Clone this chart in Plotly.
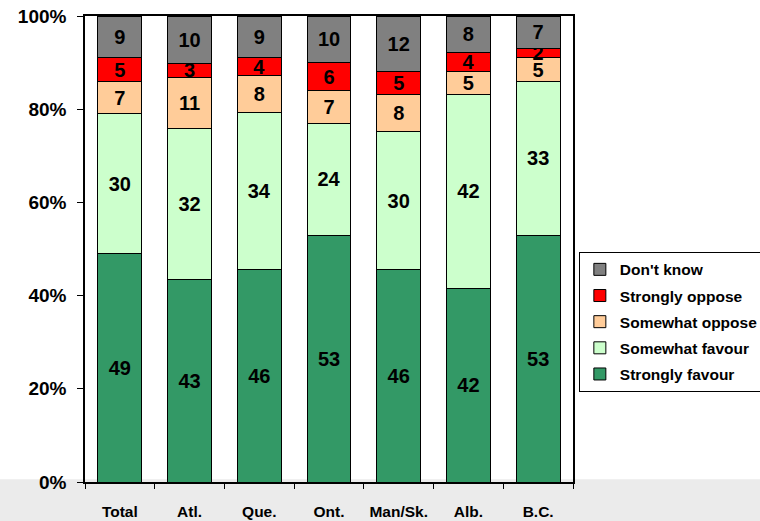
import plotly.graph_objects as go

regions = ["Total", "Atl.", "Que.", "Ont.", "Man/Sk.", "Alb.", "B.C."]
strongly_favour = [49, 43, 46, 53, 46, 42, 53]
somewhat_favour = [30, 32, 34, 24, 30, 42, 33]
somewhat_oppose = [7, 11, 8, 7, 8, 5, 5]
strongly_oppose = [5, 3, 4, 6, 5, 4, 2]
dont_know = [9, 10, 9, 10, 12, 8, 7]

series = [
    ("Strongly favour", strongly_favour, "#339966"),
    ("Somewhat favour", somewhat_favour, "#CCFFCC"),
    ("Somewhat oppose", somewhat_oppose, "#FFCC99"),
    ("Strongly oppose", strongly_oppose, "#FF0000"),
    ("Don't know", dont_know, "#808080"),
]

FONT = "Liberation Sans, Arial, sans-serif"

fig = go.Figure()
for i, (name, vals, color) in enumerate(series):
    fig.add_trace(go.Bar(
        x=regions, y=vals, name=name,
        marker=dict(color=color, line=dict(color="black", width=1)),
        text=[str(v) for v in vals],
        textposition="inside", insidetextanchor="middle",
        textangle=0, constraintext="none",
        textfont=dict(family=FONT, size=20, color="black", weight="bold"),
        legendgroup=name, legendrank=1000 - i,
        hoverinfo="x+y+name",
    ))

fig.update_layout(
    width=760, height=521,
    barmode="stack", barnorm="percent", bargap=0.37,
    paper_bgcolor="white", plot_bgcolor="white",
    margin=dict(l=85, r=187, t=16, b=39, autoexpand=False),
    font=dict(family=FONT, color="black"),
    showlegend=True,
    legend=dict(
        x=1.012, y=0.494, xanchor="left", yanchor="top",
        traceorder="grouped", tracegroupgap=3,
        bordercolor="black", borderwidth=1, bgcolor="white",
        font=dict(family=FONT, size=15.5, color="black", weight="bold"),
        itemwidth=30,
    ),
    shapes=[dict(
        type="rect", xref="paper", yref="paper",
        x0=-0.2, x1=1.5, y0=-0.2, y1=0.006,
        fillcolor="#ebebeb", line=dict(width=0), layer="below",
    )],
)

fig.update_xaxes(
    type="category", showline=True, linecolor="black", linewidth=1.5, mirror=True,
    ticks="outside", ticklen=5, tickcolor="black", tickson="boundaries",
    tickfont=dict(family=FONT, size=15.5, color="black", weight="bold"),
    tickangle=0, ticklabelstandoff=15, showgrid=False, automargin=False,
)
fig.update_yaxes(
    range=[0, 100], dtick=20, ticksuffix="%",
    showline=True, linecolor="black", linewidth=1.5, mirror=True,
    ticks="outside", ticklen=6, tickcolor="black",
    tickfont=dict(family=FONT, size=19, color="black", weight="bold"),
    ticklabelstandoff=7, showgrid=False, zeroline=False, automargin=False,
)

fig.write_html(
    "out.html",
    config={"displayModeBar": False},
    post_script="document.body.style.margin='0';document.body.style.overflow='hidden';",
)
